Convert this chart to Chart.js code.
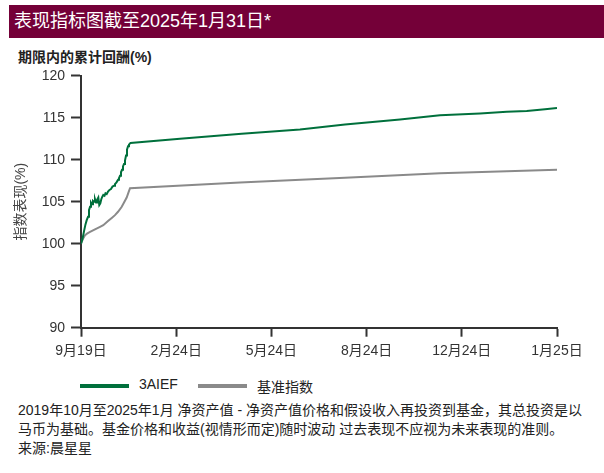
<!DOCTYPE html>
<html>
<head>
<meta charset="utf-8">
<script src="https://cdn.jsdelivr.net/npm/chart.js@4.4.1/dist/chart.umd.min.js"></script>
<style>
  body { margin: 0; width: 604px; height: 473px; background: #fff; position: relative; overflow: hidden;
         font-family: "Liberation Sans", "Noto Sans CJK SC", sans-serif; color: #222; }
  #header { position: absolute; left: 9px; top: 5px; width: 595px; height: 33px; background: #740038;
            color: #fff; font-size: 18px; line-height: 33px; padding-left: 5px; box-sizing: border-box; }
  #subtitle { position: absolute; left: 18px; top: 46px; font-size: 14px; font-weight: bold; color: #222; }
  #chartBox { position: absolute; left: 0; top: 60px; width: 604px; height: 310px; }
  #legend { position: absolute; left: 80px; top: 376px; font-size: 14px; color: #222; }
  .item { position: absolute; white-space: nowrap; }
  .swatch { position: absolute; top: 8px; width: 49px; height: 4px; }
  #note { position: absolute; left: 18px; top: 401px; width: 578px; font-size: 14px; line-height: 19px; color: #222; }
</style>
</head>
<body>
<div id="header">表现指标图截至2025年1月31日*</div>
<div id="subtitle">期限内的累计回酬(%)</div>
<div id="chartBox"><canvas id="perf" width="604" height="310"></canvas></div>
<div id="legend"></div>
<div id="note">2019年10月至2025年1月 净资产值 - 净资产值价格和假设收入再投资到基金，其总投资是以<br>马币为基础。基金价格和收益(视情形而定)随时波动 过去表现不应视为未来表现的准则。<br>来源:晨星星</div>
<script>
// tick labels on the x axis (evenly spaced)
const tickLabels = ['9月19日', '2月24日', '5月24日', '8月24日', '12月24日', '1月25日'];

// 3AIEF, x in tick units
const fundX = [0, 0.016, 0.032, 0.047, 0.060, 0.074, 0.084, 0.095, 0.105, 0.116, 0.126, 0.137, 0.147, 0.158,
  0.168, 0.182, 0.192, 0.203, 0.213, 0.224, 0.234, 0.247, 0.257, 0.270, 0.284, 0.299, 0.315, 0.331, 0.347,
  0.357, 0.373, 0.389, 0.399, 0.410, 0.420, 0.431, 0.441, 0.452, 0.462, 0.473, 0.483, 0.494, 0.504, 0.520,
  1.040, 1.688, 2.300, 2.773, 3.351, 3.771, 4.191, 4.472, 4.682, 4.874, 5.000];
const fundY = [100, 100.6, 101.5, 102.3, 102.8, 103.2, 104.0, 104.4, 104.9, 104.7, 105.1, 105.0, 105.3, 104.9,
  105.2, 105.5, 104.6, 104.8, 105.3, 105.6, 105.8, 105.7, 106.0, 105.9, 106.2, 106.4, 106.5, 106.8, 106.9,
  107.1, 107.3, 107.6, 107.8, 108.1, 108.5, 108.8, 109.2, 109.5, 109.9, 110.5, 111.2, 111.6, 111.8, 112.0,
  112.5, 113.1, 113.6, 114.2, 114.8, 115.3, 115.5, 115.7, 115.8, 116.0, 116.15];

// benchmark
const benchX = [0, 0.021, 0.042, 0.063, 0.095, 0.147, 0.200, 0.234, 0.284, 0.326, 0.357, 0.389, 0.428, 0.452,
  0.480, 0.499, 0.515, 1.670, 2.773, 3.771, 5.000];
const benchY = [100, 100.6, 101.0, 101.2, 101.4, 101.7, 102.0, 102.2, 102.7, 103.1, 103.4, 103.8, 104.4, 104.9,
  105.5, 106.1, 106.6, 107.3, 107.85, 108.4, 108.8];

const seriesNames = ['3AIEF', '基准指数'];
const seriesColors = ['#00703c', '#8a8a8a'];

const toPoints = (xs, ys) => xs.map((x, i) => ({ x: x, y: ys[i] }));
const axisFont = { family: '"Liberation Sans", "Noto Sans CJK SC", sans-serif', size: 14 };

new Chart(document.getElementById('perf').getContext('2d'), {
  type: 'line',
  data: {
    datasets: [
      { label: seriesNames[0], data: toPoints(fundX, fundY), borderColor: seriesColors[0], borderWidth: 2,
        pointRadius: 0, tension: 0 },
      { label: seriesNames[1], data: toPoints(benchX, benchY), borderColor: seriesColors[1], borderWidth: 2,
        pointRadius: 0, tension: 0 }
    ]
  },
  options: {
    responsive: false,
    animation: false,
    layout: { padding: { top: 15.7, right: 47, left: 0, bottom: 0 } },
    plugins: { legend: { display: false }, tooltip: { enabled: false } },
    scales: {
      x: {
        type: 'linear', min: 0, max: 5,
        afterFit: (s) => { s.height = 42.3; },
        border: { display: true, color: '#333', width: 2 },
        grid: { drawOnChartArea: false, drawTicks: true, tickLength: 9, tickColor: '#333', tickWidth: 2 },
        ticks: { stepSize: 1, padding: 6, color: '#333', font: axisFont, maxRotation: 0,
                 callback: (v) => tickLabels[v] }
      },
      y: {
        min: 90, max: 120,
        afterFit: (s) => { s.width = 81; },
        border: { display: true, color: '#333', width: 2 },
        grid: { drawOnChartArea: false, drawTicks: true, tickLength: 10, tickColor: '#333', tickWidth: 2 },
        ticks: { stepSize: 5, padding: 6, color: '#333', font: axisFont },
        title: { display: true, text: '指数表现(%)', color: '#444', padding: { top: 13, bottom: 0 },
                 font: { family: '"Liberation Sans", "Noto Sans CJK SC", sans-serif', size: 14 } }
      }
    }
  }
});

// legend built from the same names and colours
const legend = document.getElementById('legend');
const offsets = [0, 118];
seriesNames.forEach((name, i) => {
  const item = document.createElement('div');
  item.className = 'item';
  item.style.left = offsets[i] + 'px';
  item.innerHTML = '<span class="swatch" style="left:0;background:' + seriesColors[i] + '"></span>' +
                   '<span style="margin-left:59px">' + name + '</span>';
  legend.appendChild(item);
});
</script>
</body>
</html>
